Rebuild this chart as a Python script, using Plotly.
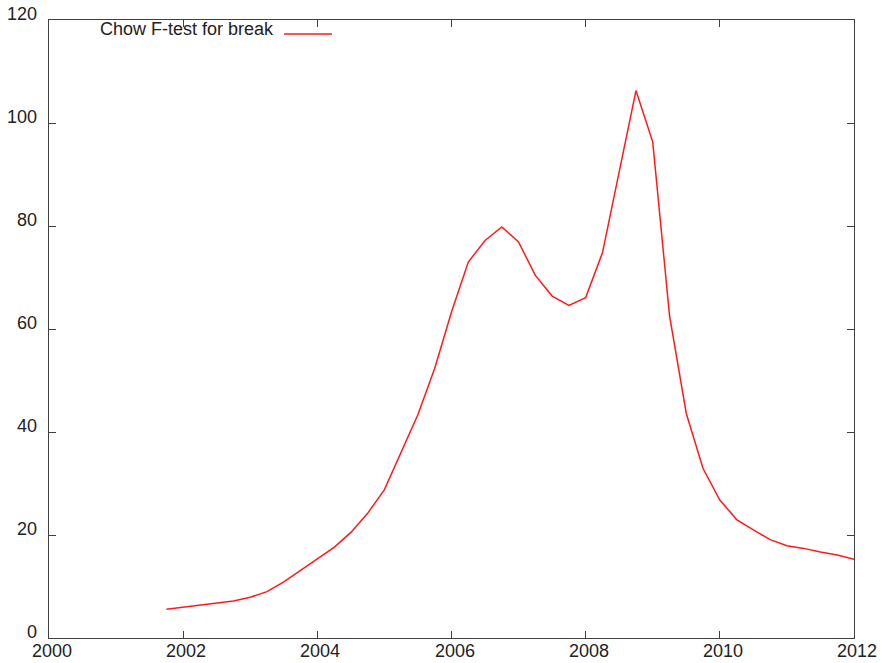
import plotly.graph_objects as go

# Quarterly dates and Chow F-statistic for a structural break
quarters = [2001.75 + 0.25 * i for i in range(42)]
f_stat = [5.6, 6.0, 6.4, 6.8, 7.2, 7.9, 9.0, 10.9, 13.1, 15.3,
          17.6, 20.5, 24.2, 28.8, 36.0, 43.4, 52.4, 63.3, 73.0, 77.2,
          79.8, 76.9, 70.4, 66.4, 64.6, 66.1, 74.8, 90.5, 106.3, 96.3,
          62.6, 43.6, 32.9, 26.8, 23.0, 21.0, 19.1, 17.9, 17.4, 16.7,
          16.1, 15.3]

x_ticks = [2000, 2002, 2004, 2006, 2008, 2010, 2012]
y_ticks = [0, 20, 40, 60, 80, 100, 120]
series_name = "Chow F-test for break"

FONT = "Liberation Sans, Arial, Helvetica, sans-serif"
FONT_SIZE = 18
AXIS_COLOR = "#404040"
TEXT_COLOR = "#222222"
LINE_COLOR = "#ff1a1a"

W, H = 881, 663
ML, MR, MT, MB = 49, 27, 20, 25
PW, PH = W - ML - MR, H - MT - MB


def px_x(px):
    return (px - ML) / PW


def px_y(py):
    return (H - MB - py) / PH


fig = go.Figure()
fig.add_trace(go.Scatter(
    x=quarters, y=f_stat, mode="lines",
    line=dict(color=LINE_COLOR, width=1.5),
    name=series_name, showlegend=False,
))

axis_common = dict(
    showgrid=False, zeroline=False,
    showline=True, linecolor=AXIS_COLOR, linewidth=1.2, mirror="ticks",
    ticks="inside", ticklen=7, tickcolor=AXIS_COLOR, tickwidth=1,
    showticklabels=False,
)
fig.update_xaxes(range=[2000, 2012], tickvals=x_ticks, **axis_common)
fig.update_yaxes(range=[0, 120], tickvals=y_ticks, **axis_common)

label_font = dict(family=FONT, size=FONT_SIZE, color=TEXT_COLOR)
annotations = []
for xv in x_ticks:
    annotations.append(dict(
        x=xv, y=0, xref="x", yref="y", text=str(xv), showarrow=False,
        xanchor="center", yanchor="middle", xshift=3, yshift=-12.5,
        font=label_font,
    ))
for yv in y_ticks:
    annotations.append(dict(
        x=2000, y=yv, xref="x", yref="y", text=str(yv), showarrow=False,
        xanchor="right", yanchor="middle", xshift=-10, yshift=6,
        font=label_font,
    ))

# Key: label text with a short line sample to its right
annotations.append(dict(
    x=px_x(276), y=px_y(29), xref="paper", yref="paper", text=series_name,
    showarrow=False, xanchor="right", yanchor="middle", font=label_font,
))

fig.update_layout(
    width=W, height=H,
    margin=dict(l=ML, r=MR, t=MT, b=MB),
    paper_bgcolor="white", plot_bgcolor="white",
    annotations=annotations,
)

fig.add_shape(type="line", xref="paper", yref="paper",
              x0=px_x(284), x1=px_x(332), y0=px_y(34), y1=px_y(34),
              line=dict(color=LINE_COLOR, width=1.5))

fig.write_html("out.html")
